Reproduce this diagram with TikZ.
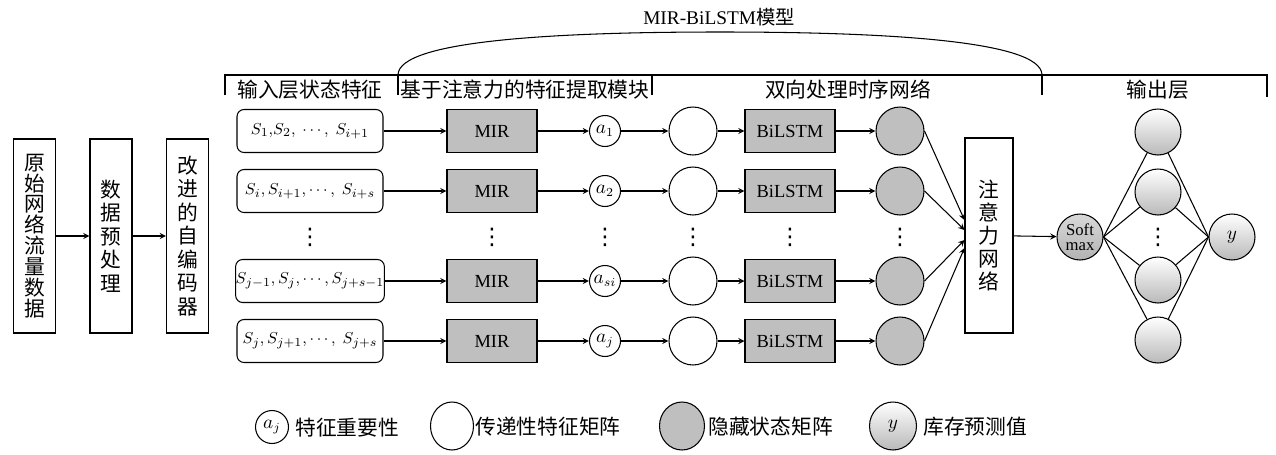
\documentclass[tikz,border=0pt]{standalone}
\usepackage{fontspec}
\setmainfont{Liberation Serif}
\newfontfamily\cjk{Noto Sans CJK SC}
\newfontfamily\sym{DejaVu Sans}
\usetikzlibrary{shapes.geometric}
\tikzset{
	cn/.style={font=\cjk\fontsize{11.8}{14}\selectfont},
	tall/.style={draw,cn,align=center,minimum width=0.84cm,minimum height=3.88cm,inner sep=0pt},
	inbox/.style={draw,rounded corners=4pt,minimum width=2.92cm,minimum height=0.86cm,inner sep=0pt,font=\fontsize{9.5}{11}\selectfont},
	graybox/.style={draw,fill=gray!50,minimum width=1.8cm,minimum height=0.86cm,inner sep=0pt},
	acirc/.style={draw,circle,minimum size=0.62cm,inner sep=0pt},
	tcirc/.style={draw,circle,minimum size=0.96cm,inner sep=0pt},
	hcirc/.style={tcirc,fill=gray!50},
	ocirc/.style={draw,circle,minimum size=0.92cm,inner sep=0pt,top color=white,middle color=white,bottom color=gray!55},
	vdot/.style={font=\sym\fontsize{13}{13}\selectfont,inner sep=0pt},
	legtext/.style={cn,anchor=west,inner sep=0pt}
}
\begin{document}
\begin{tikzpicture}[x=0.02cm,y=-0.02cm,line width=0.6pt,every node/.append style={font=\fontsize{10.5}{12}\selectfont}]
		\useasboundingbox (0,0) rectangle (1276,454);
		
		\node[tall,font=\cjk\fontsize{11.8}{11.9}\selectfont] (raw) at (34.5,236) {原\\始\\网\\络\\流\\量\\数\\据};
		\node[tall,font=\cjk\fontsize{11.8}{13.4}\selectfont] (pre) at (111,236) {数\\据\\预\\处\\理};
		\node[tall,font=\cjk\fontsize{11.8}{13.4}\selectfont] (enc) at (187.5,236) {改\\进\\的\\自\\编\\码\\器};
		\draw[-stealth] (raw) -- (pre);
		\draw[-stealth] (pre) -- (enc);
		
		\foreach \r/\yy/\txt/\aa in {1/131/{$S_1{,}S_2,\ \cdots,\ S_{i+1}$}/{$a_1$},
				2/191/{$S_i, S_{i+1}, \cdots,\ S_{i+s}$}/{$a_2$},
				3/281/{$S_{j-1}, S_j, \cdots, S_{j+s-1}$}/{$a_{si}$},
				4/341/{$S_j, S_{j+1}, \cdots,\ S_{j+s}$}/{$a_j$}}{
			\node[inbox] (s\r) at (310,\yy) {\txt};
			\node[graybox] (m\r) at (492,\yy) {MIR};
			\node[acirc] (a\r) at (605,\yy) {\aa};
			\node[tcirc] (t\r) at (693,\yy) {};
			\node[graybox] (b\r) at (790,\yy) {BiLSTM};
			\node[hcirc] (h\r) at (900,\yy) {};
			\draw[-stealth] (s\r) -- (m\r);
			\draw[-stealth] (m\r) -- (a\r);
			\draw[-stealth] (a\r) -- (t\r);
			\draw[-stealth] (t\r) -- (b\r);
			\draw[-stealth] (b\r) -- (h\r);
		}
		\foreach \xx in {310,492,605,693,790,900,1158}
			\node[vdot] (d\xx) at (\xx,237) {⋮};
		
		\node[tall,minimum width=0.96cm,minimum height=3.9cm,font=\cjk\fontsize{11.8}{13.2}\selectfont] (att) at (989,235.5) {注\\意\\力\\网\\络};
		\coordinate (in1) at ([yshift=0.31cm]att.west);
		\coordinate (in2) at ([yshift=0.11cm]att.west);
		\coordinate (in3) at ([yshift=-0.09cm]att.west);
		\coordinate (in4) at ([yshift=-0.25cm]att.west);
		\foreach \r in {1,...,4}
			\draw[-stealth] (h\r.east) -- (in\r);
		
		\node[draw,circle,minimum size=0.92cm,inner sep=0pt,top color=gray!30,bottom color=gray!60,align=center,font=\fontsize{9.5}{8.5}\selectfont] (sm) at (1080,237) {Soft\\max};
		\draw[-stealth] (att) -- (sm);
		\foreach \r/\yy in {1/132,2/192,3/280,4/340}
			\node[ocirc] (o\r) at (1158,\yy) {};
		\node[ocirc] (y) at (1232,237) {$y$};
		\foreach \r in {1,...,4}
			\draw (sm.east) -- (o\r) (o\r) -- (y.west);
		
		\coordinate (B1) at (225,75);
		\coordinate (B2) at (398,75);
		\coordinate (B3) at (652,75);
		\coordinate (B4) at (1042,75);
		\coordinate (B5) at (1267,75);
		\draw (225,95) -- (B1) -- (B5) -- (1267,97);
		\draw (B2) -- (398,95);
		\draw (B3) -- (652,95);
		\draw (B4) -- (1042,95);
		\draw (B2) .. controls (398,40) and (560,32) .. (720,32) .. controls (880,32) and (1042,40) .. (B4);
		\node[font=\fontsize{11}{13}\selectfont] (title) at (719,17) {MIR-BiLSTM{\cjk 模型}};
		\node[cn] (lin) at (310,90) {输入层状态特征};
		\node[cn] (lfe) at (525,90) {基于注意力的特征提取模块};
		\node[cn] (lbi) at (848,90) {双向处理时序网络};
		\node[cn] (lout) at (1158,90) {输出层};
		
		\node[draw,ellipse,minimum width=0.66cm,minimum height=0.66cm,inner sep=0pt] (la) at (272,427) {$a_j$};
		\node[legtext] (lat) at (295,428) {特征重要性};
		\node[draw,ellipse,minimum width=0.86cm,minimum height=0.96cm] (lt) at (452,426) {};
		\node[legtext] (ltt) at (475,427) {传递性特征矩阵};
		\node[draw,ellipse,fill=gray!50,minimum width=0.9cm,minimum height=0.96cm] (lh) at (682,426) {};
		\node[legtext] (lht) at (708,427) {隐藏状态矩阵};
		\node[draw,ellipse,top color=white,middle color=white,bottom color=gray!55,minimum width=0.94cm,minimum height=0.96cm] (ly) at (893,426) {$y$};
		\node[legtext] (lyt) at (923,427) {库存预测值};
	\end{tikzpicture}
\end{document}
